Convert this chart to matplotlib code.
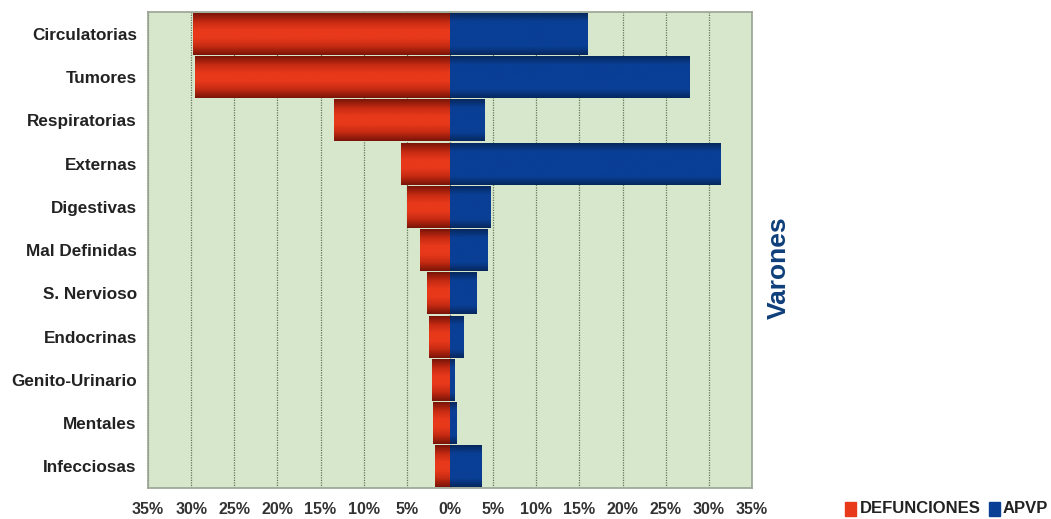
import numpy as np
import matplotlib.pyplot as plt
from matplotlib.colors import LinearSegmentedColormap
from matplotlib.patches import Rectangle

plt.rcParams["font.family"] = ["Liberation Sans", "DejaVu Sans"]

# causas de muerte, varones
causas = ["Circulatorias", "Tumores", "Respiratorias", "Externas", "Digestivas",
          "Mal Definidas", "S. Nervioso", "Endocrinas", "Genito-Urinario",
          "Mentales", "Infecciosas"]
defunciones = [29.8, 29.6, 13.4, 5.7, 5.0, 3.5, 2.7, 2.4, 2.1, 2.0, 1.7]
apvp = [15.9, 27.8, 4.0, 31.3, 4.7, 4.4, 3.1, 1.6, 0.5, 0.8, 3.6]
ticks = [-35, -30, -25, -20, -15, -10, -5, 0, 5, 10, 15, 20, 25, 30, 35]

rojo = "#e8391b"
azul = "#0a3f96"
fondo = "#d7e7cb"

fig = plt.figure(figsize=(10.51, 5.19), dpi=100)
ax = fig.add_axes([0.1408, 0.0597, 0.5747, 0.917])
ax.set_facecolor(fondo)

y = np.arange(len(causas))
h = 0.97

# degradado tipo cilindro para las barras rojas
cmap_rojo = LinearSegmentedColormap.from_list(
    "rojo", ["#7a1408", "#c42a12", rojo, rojo, "#c42a12", "#7a1408"])
grad = np.linspace(0, 1, 64).reshape(-1, 1)

bars_r = ax.barh(y, [-v for v in defunciones], height=h, color=rojo, zorder=3)
for b in bars_r:
    x0, y0 = b.get_x(), b.get_y()
    w, hh = b.get_width(), b.get_height()
    ax.imshow(grad, cmap=cmap_rojo, aspect="auto", zorder=3.5,
              extent=(x0, x0 + w, y0 + hh, y0), interpolation="bicubic")

cmap_azul = LinearSegmentedColormap.from_list(
    "azul", ["#06285e", azul, azul, azul, azul, "#06285e"])
bars_a = ax.barh(y, apvp, height=h, color=azul, zorder=3)
for b in bars_a:
    x0, y0 = b.get_x(), b.get_y()
    w, hh = b.get_width(), b.get_height()
    ax.imshow(grad, cmap=cmap_azul, aspect="auto", zorder=3.5,
              extent=(x0, x0 + w, y0 + hh, y0), interpolation="bicubic")

ax.set_xlim(-35, 35)
ax.set_ylim(len(causas) - 0.5, -0.5)

ax.set_xticks(ticks)
ax.set_xticklabels([f"{abs(t)}%" for t in ticks], fontsize=11.5,
                   fontweight="bold", color="#333333")
ax.set_yticks(y)
ax.set_yticklabels(causas, fontsize=12.3, fontweight="bold", color="#222222")
ax.tick_params(axis="x", length=0, pad=10)
ax.tick_params(axis="y", length=0, pad=8)

ax.grid(axis="x", color="#66775a", linestyle=(0, (1, 1)), linewidth=0.9, zorder=1)
for s in ax.spines.values():
    s.set_color("#9aa394")
    s.set_linewidth(1.2)

fig.text(0.741, 0.484, "Varones", rotation=90, fontsize=19, fontweight="bold",
         color="#0f3f7a", ha="center", va="center")

# leyenda
fig.patches.append(Rectangle((0.804, 0.006), 0.0105, 0.027, color=rojo,
                             transform=fig.transFigure, figure=fig))
fig.text(0.818, 0.02, "DEFUNCIONES", fontsize=12, fontweight="bold",
         color="#222222", va="center")
fig.patches.append(Rectangle((0.941, 0.006), 0.0105, 0.027, color=azul,
                             transform=fig.transFigure, figure=fig))
fig.text(0.954, 0.02, "APVP", fontsize=12, fontweight="bold",
         color="#222222", va="center")

fig.savefig("out.png", dpi=100)
